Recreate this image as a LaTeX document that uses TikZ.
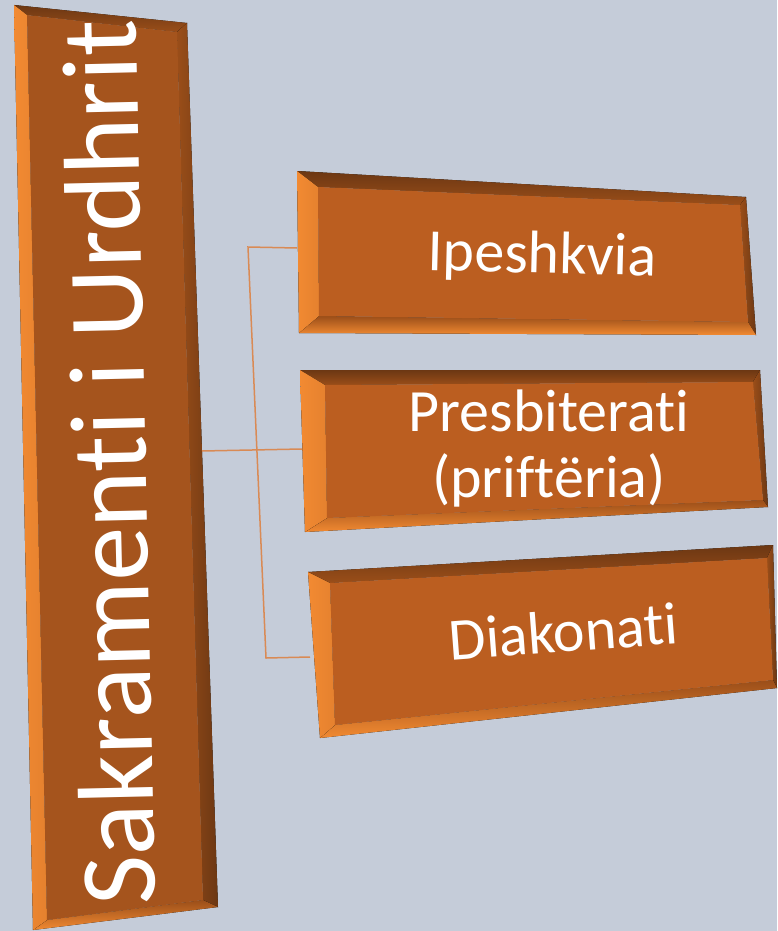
\documentclass[tikz,border=0pt]{standalone}
\usepackage{fontspec}
\setmainfont{Carlito}[Ligatures={NoCommon, NoRequired, NoContextual}]
\definecolor{bgcol}{HTML}{C5CCD9}
\definecolor{faceleft}{HTML}{A5541D}
\definecolor{faceright}{HTML}{BB5E20}
\definecolor{bvdark}{HTML}{6C3713}
\definecolor{bvmid}{HTML}{9A4E19}
\definecolor{bvlight}{HTML}{F28A32}
\definecolor{linkcol}{HTML}{D98A55}

\begin{document}
\begin{tikzpicture}[x=1pt, y=-1pt, semithick,
    bvtop/.style={top color=bvdark, bottom color=bvmid},
    bvright/.style={left color=bvmid, right color=bvdark},
    bvbot/.style={top color=bvmid, bottom color=bvlight},
    bvleft/.style={left color=bvlight, right color=bvlight!85!bvmid},
    label/.style={text=white, inner sep=0pt, font=\fontsize{60}{66}\selectfont},
    link/.style={draw=linkcol, line width=1.5pt}]
    \fill[bgcol] (0, 0) rectangle (777, 931);
    \useasboundingbox (0, 0) rectangle (777, 931);

    \fill[bvtop] (14, 5) -- (187, 23) -- (177, 32) -- (27, 15) -- cycle;
    \fill[bvright] (187, 23) -- (218, 907) -- (203, 900) -- (177, 32) -- cycle;
    \fill[bvbot] (218, 907) -- (33, 930) -- (47, 920) -- (203, 900) -- cycle;
    \fill[bvleft] (33, 930) -- (14, 5) -- (27, 15) -- (47, 920) -- cycle;
    \fill[faceleft] (27, 15) -- (177, 32) -- (203, 900) -- (47, 920) -- cycle;
    \node[label, font=\fontsize{108}{120}\selectfont, anchor=base west, rotate=91.3] (sakr) at (156, 905) {Sakramenti i Urdhrit};

    \fill[bvtop] (297, 171) -- (746, 197) -- (740, 205) -- (318, 187) -- cycle;
    \fill[bvright] (746, 197) -- (756, 335) -- (748, 322) -- (740, 205) -- cycle;
    \fill[bvbot] (756, 335) -- (299, 333) -- (319, 316) -- (748, 322) -- cycle;
    \fill[bvleft] (299, 333) -- (297, 171) -- (318, 187) -- (319, 316) -- cycle;
    \fill[faceright] (318, 187) -- (740, 205) -- (748, 322) -- (319, 316) -- cycle;
    \node[label, anchor=base, rotate=-1.4] (ipesh) at (542, 273) {Ipeshkvia};

    \fill[bvtop] (300, 370) -- (760, 370) -- (753, 382) -- (325, 385) -- cycle;
    \fill[bvright] (760, 370) -- (768, 507) -- (763, 500) -- (753, 382) -- cycle;
    \fill[bvbot] (768, 507) -- (305, 532) -- (327, 518) -- (763, 500) -- cycle;
    \fill[bvleft] (305, 532) -- (300, 370) -- (325, 385) -- (327, 518) -- cycle;
    \fill[faceright] (325, 385) -- (753, 382) -- (763, 500) -- (327, 518) -- cycle;
    \node[label, align=center] (presb) at (549, 448) {Presbiterati\\(priftëria)};

    \fill[bvtop] (308, 572) -- (773, 545) -- (767, 558) -- (330, 583) -- cycle;
    \fill[bvright] (773, 545) -- (777, 688) -- (773, 680) -- (767, 558) -- cycle;
    \fill[bvbot] (777, 688) -- (320, 738) -- (335, 725) -- (773, 680) -- cycle;
    \fill[bvleft] (320, 738) -- (308, 572) -- (330, 583) -- (335, 725) -- cycle;
    \fill[faceright] (330, 583) -- (767, 558) -- (773, 680) -- (335, 725) -- cycle;
    \node[label, anchor=base, rotate=4.3] (diak) at (565, 652) {Diakonati};

    \coordinate (sakr-e) at (202, 451);
    \coordinate (ipesh-w) at (297, 248);
    \coordinate (presb-w) at (302, 449);
    \coordinate (diak-w) at (310, 657);
    \coordinate (tree-t) at (248, 247);
    \coordinate (tree-b) at (266, 658);
    \draw[link] (sakr-e) -- (presb-w);
    \draw[link] (ipesh-w) -- (tree-t) -- (tree-b) -- (diak-w);
\end{tikzpicture}
\end{document}
